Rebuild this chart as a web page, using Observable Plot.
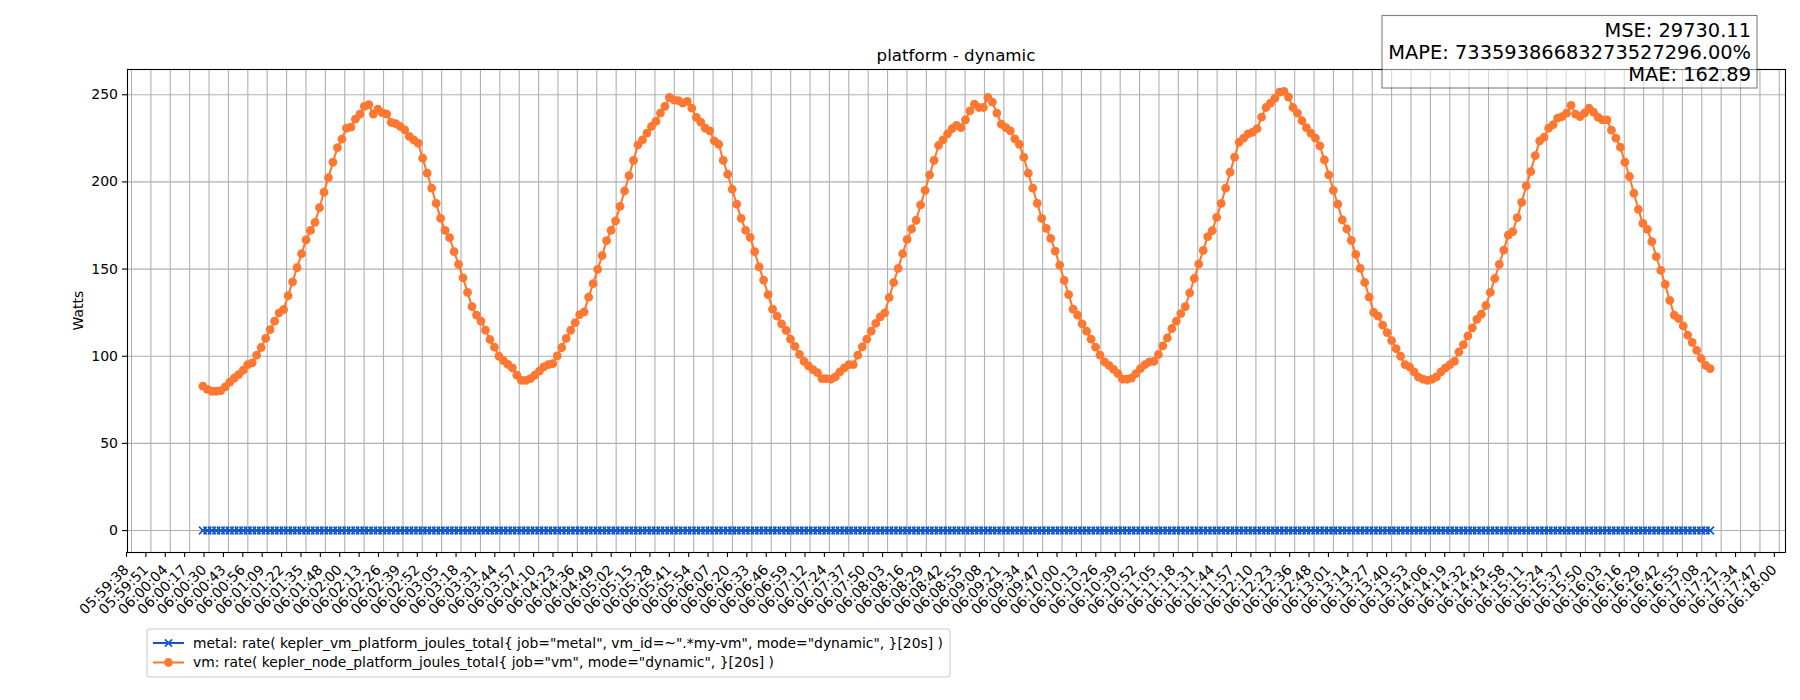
<!DOCTYPE html>
<html>
<head>
<meta charset="utf-8">
<script src="https://cdn.jsdelivr.net/npm/d3@7"></script>
<script src="https://cdn.jsdelivr.net/npm/@observablehq/plot@0.6"></script>
<style>
  html, body { margin: 0; padding: 0; background: #ffffff; }
  #chart svg { display: block; }
</style>
</head>
<body>
<div id="chart"></div>
<script>
// ---------- chart text ----------
const chartTitle = "platform - dynamic";
const yAxisLabel = "Watts";
const statLines = ["MSE: 29730.11", "MAPE: 73359386683273527296.00%", "MAE: 162.89"];
const seriesNames = [
  'metal: rate( kepler_vm_platform_joules_total{ job="metal", vm_id=~".*my-vm", mode="dynamic", }[20s] )',
  'vm: rate( kepler_node_platform_joules_total{ job="vm", mode="dynamic", }[20s] )'
];
const seriesColors = ["#1456c6", "#ff7832"];

// ---------- sampling ----------
const sampleDay = "2024-01-01";
const sampleStart = "06:00:26.1";
const sampleStepSeconds = 3;

// ---------- series values (Watts) ----------
const vmWatts = [
  82.8, 81.0, 79.9, 79.9, 80.3, 82.4, 85.2, 87.5, 89.5, 92.0,
  95.2, 96.2, 100.6, 105.0, 110.2, 115.3, 120.1, 124.9, 126.8, 134.7,
  142.7, 150.8, 158.8, 166.7, 172.2, 176.8, 185.2, 194.1, 202.5, 211.3,
  219.7, 224.5, 230.8, 231.4, 236.0, 238.9, 243.3, 244.3, 238.9, 241.8,
  239.7, 238.9, 234.1, 233.5, 231.8, 229.9, 226.1, 224.1, 222.2, 213.6,
  205.0, 196.4, 187.7, 179.1, 172.2, 168.0, 160.0, 152.7, 145.0, 136.6,
  128.4, 123.6, 120.1, 115.0, 109.6, 105.2, 100.0, 97.5, 95.3, 93.3,
  89.1, 86.2, 86.2, 87.2, 89.1, 91.4, 93.9, 95.2, 95.8, 100.2,
  105.0, 110.2, 114.9, 119.3, 123.9, 125.5, 133.9, 141.6, 149.8, 157.7,
  166.3, 172.2, 177.6, 186.0, 194.8, 203.6, 212.3, 221.3, 224.1, 228.0,
  231.8, 234.7, 239.5, 243.3, 248.5, 247.1, 246.6, 245.2, 246.2, 242.3,
  237.0, 234.3, 230.8, 229.3, 223.6, 221.6, 212.3, 204.4, 195.8, 187.2,
  179.1, 172.2, 168.2, 160.0, 151.3, 143.7, 135.4, 127.0, 123.0, 118.6,
  114.8, 109.8, 105.6, 101.0, 97.1, 94.5, 92.3, 90.6, 87.2, 87.2,
  86.8, 88.1, 91.0, 93.3, 95.2, 95.2, 100.6, 105.4, 109.8, 114.4,
  118.8, 122.6, 124.9, 133.7, 142.3, 150.4, 158.8, 167.0, 173.0, 178.0,
  186.8, 195.2, 204.0, 212.3, 220.9, 224.1, 227.6, 230.5, 232.4, 231.2,
  235.6, 240.8, 244.6, 242.7, 242.7, 248.5, 245.8, 239.5, 233.1, 231.2,
  229.3, 224.7, 221.6, 214.2, 205.0, 196.4, 187.7, 179.1, 173.4, 167.6,
  160.3, 152.3, 143.5, 135.4, 127.0, 123.6, 118.6, 114.4, 109.8, 105.2,
  100.6, 96.7, 94.8, 92.5, 90.0, 86.8, 86.8, 87.5, 90.0, 92.9,
  95.2, 96.7, 97.1, 101.0, 105.9, 110.5, 115.9, 120.1, 124.5, 128.4,
  136.4, 144.6, 152.9, 160.7, 168.6, 172.0, 179.7, 187.7, 196.4, 205.6,
  214.2, 222.8, 225.1, 227.6, 228.5, 230.5, 237.2, 242.7, 245.2, 248.1,
  251.5, 251.9, 248.7, 242.7, 239.5, 235.1, 231.2, 228.0, 225.1, 220.7,
  212.6, 204.0, 195.2, 187.2, 178.2, 173.0, 166.5, 158.4, 150.4, 142.3,
  133.9, 125.1, 123.0, 117.8, 113.6, 109.0, 104.4, 100.0, 95.2, 93.9,
  91.0, 88.0, 86.8, 86.2, 86.8, 88.1, 91.0, 93.3, 95.2, 97.1,
  102.5, 106.7, 111.7, 116.3, 121.1, 124.1, 129.1, 136.6, 144.6, 152.7,
  160.9, 169.5, 171.5, 179.5, 188.3, 197.7, 205.9, 215.1, 223.6, 225.7,
  230.8, 232.8, 236.6, 237.5, 239.5, 243.9, 238.9, 237.5, 239.5, 242.3,
  240.0, 237.2, 235.6, 235.6, 229.7, 225.1, 219.9, 211.3, 203.1, 193.5,
  184.3, 176.2, 172.8, 165.7, 157.1, 149.2, 141.2, 132.0, 123.6, 121.6,
  117.4, 112.1, 107.9, 103.4, 98.7, 94.8, 92.9
];
const metalWatts = [
  0, 0, 0, 0, 0, 0, 0, 0, 0, 0,
  0, 0, 0, 0, 0, 0, 0, 0, 0, 0,
  0, 0, 0, 0, 0, 0, 0, 0, 0, 0,
  0, 0, 0, 0, 0, 0, 0, 0, 0, 0,
  0, 0, 0, 0, 0, 0, 0, 0, 0, 0,
  0, 0, 0, 0, 0, 0, 0, 0, 0, 0,
  0, 0, 0, 0, 0, 0, 0, 0, 0, 0,
  0, 0, 0, 0, 0, 0, 0, 0, 0, 0,
  0, 0, 0, 0, 0, 0, 0, 0, 0, 0,
  0, 0, 0, 0, 0, 0, 0, 0, 0, 0,
  0, 0, 0, 0, 0, 0, 0, 0, 0, 0,
  0, 0, 0, 0, 0, 0, 0, 0, 0, 0,
  0, 0, 0, 0, 0, 0, 0, 0, 0, 0,
  0, 0, 0, 0, 0, 0, 0, 0, 0, 0,
  0, 0, 0, 0, 0, 0, 0, 0, 0, 0,
  0, 0, 0, 0, 0, 0, 0, 0, 0, 0,
  0, 0, 0, 0, 0, 0, 0, 0, 0, 0,
  0, 0, 0, 0, 0, 0, 0, 0, 0, 0,
  0, 0, 0, 0, 0, 0, 0, 0, 0, 0,
  0, 0, 0, 0, 0, 0, 0, 0, 0, 0,
  0, 0, 0, 0, 0, 0, 0, 0, 0, 0,
  0, 0, 0, 0, 0, 0, 0, 0, 0, 0,
  0, 0, 0, 0, 0, 0, 0, 0, 0, 0,
  0, 0, 0, 0, 0, 0, 0, 0, 0, 0,
  0, 0, 0, 0, 0, 0, 0, 0, 0, 0,
  0, 0, 0, 0, 0, 0, 0, 0, 0, 0,
  0, 0, 0, 0, 0, 0, 0, 0, 0, 0,
  0, 0, 0, 0, 0, 0, 0, 0, 0, 0,
  0, 0, 0, 0, 0, 0, 0, 0, 0, 0,
  0, 0, 0, 0, 0, 0, 0, 0, 0, 0,
  0, 0, 0, 0, 0, 0, 0, 0, 0, 0,
  0, 0, 0, 0, 0, 0, 0, 0, 0, 0,
  0, 0, 0, 0, 0, 0, 0, 0, 0, 0,
  0, 0, 0, 0, 0, 0, 0
];

// ---------- tick labels ----------
const xTickLabels = [
  "05:59:38", "05:59:51", "06:00:04", "06:00:17", "06:00:30", "06:00:43", "06:00:56",
  "06:01:09", "06:01:22", "06:01:35", "06:01:48", "06:02:00", "06:02:13", "06:02:26",
  "06:02:39", "06:02:52", "06:03:05", "06:03:18", "06:03:31", "06:03:44", "06:03:57",
  "06:04:10", "06:04:23", "06:04:36", "06:04:49", "06:05:02", "06:05:15", "06:05:28",
  "06:05:41", "06:05:54", "06:06:07", "06:06:20", "06:06:33", "06:06:46", "06:06:59",
  "06:07:12", "06:07:24", "06:07:37", "06:07:50", "06:08:03", "06:08:16", "06:08:29",
  "06:08:42", "06:08:55", "06:09:08", "06:09:21", "06:09:34", "06:09:47", "06:10:00",
  "06:10:13", "06:10:26", "06:10:39", "06:10:52", "06:11:05", "06:11:18", "06:11:31",
  "06:11:44", "06:11:57", "06:12:10", "06:12:23", "06:12:36", "06:12:48", "06:13:01",
  "06:13:14", "06:13:27", "06:13:40", "06:13:53", "06:14:06", "06:14:19", "06:14:32",
  "06:14:45", "06:14:58", "06:15:11", "06:15:24", "06:15:37", "06:15:50", "06:16:03",
  "06:16:16", "06:16:29", "06:16:42", "06:16:55", "06:17:08", "06:17:21", "06:17:34",
  "06:17:47", "06:18:00"
];
const yTicks = [0, 50, 100, 150, 200, 250];

// ---------- build table ----------
const startMs = Date.parse(`${sampleDay}T${sampleStart}Z`);
const rows = vmWatts.map((v, i) => ({
  time: new Date(startMs + i * sampleStepSeconds * 1000),
  vm: v,
  metal: metalWatts[i]
}));

// tick positions: evenly spaced between first and last labelled instants (labels are truncated seconds)
const tickFrac = 370;
const tFirst = Date.parse(`${sampleDay}T${xTickLabels[0]}Z`) + tickFrac;
const tLast = Date.parse(`${sampleDay}T${xTickLabels[xTickLabels.length - 1]}Z`) + tickFrac;
const tickDates = xTickLabels.map((_, i) => new Date(tFirst + i * (tLast - tFirst) / (xTickLabels.length - 1)));
const labelOf = new Map(tickDates.map((d, i) => [+d, xTickLabels[i]]));

// autoscale like matplotlib (5% margins)
const t0 = +rows[0].time, t1 = +rows[rows.length - 1].time;
const xPad = 0.05 * (t1 - t0);
const yMin = Math.min(d3.min(vmWatts), d3.min(metalWatts));
const yMax = Math.max(d3.max(vmWatts), d3.max(metalWatts));
const yPad = 0.05 * (yMax - yMin);

const W = 1800, H = 700;
const M = {left: 127, right: 15, top: 69, bottom: 148};
const font = '"DejaVu Sans", sans-serif';

const svgNode = Plot.plot({
  width: W,
  height: H,
  marginLeft: M.left,
  marginRight: M.right,
  marginTop: M.top,
  marginBottom: M.bottom,
  style: {fontFamily: font, fontSize: "14px", color: "#000000", background: "#ffffff", overflow: "visible"},
  x: {type: "utc", domain: [new Date(t0 - xPad), new Date(t1 + xPad)]},
  y: {domain: [yMin - yPad, yMax + yPad]},
  marks: [
    Plot.gridX(tickDates, {stroke: "#b0b0b0", strokeOpacity: 1, strokeWidth: 1.1}),
    Plot.gridY(yTicks, {stroke: "#b0b0b0", strokeOpacity: 1, strokeWidth: 1.1}),
    Plot.axisX(tickDates, {
      tickFormat: d => labelOf.get(+d),
      tickRotate: -45, tickSize: 5, tickPadding: 10, dx: -5,
      label: null, fontSize: 14, strokeWidth: 1.1
    }),
    Plot.axisY(yTicks, {tickSize: 5, tickPadding: 4.5, label: null, fontSize: 14, strokeWidth: 1.1}),
    Plot.line(rows, {x: "time", y: "metal", stroke: seriesColors[0], strokeWidth: 2.1}),
    Plot.dot(rows, {x: "time", y: "metal", symbol: "times", stroke: seriesColors[0], r: 3.6, strokeWidth: 1.7}),
    Plot.line(rows, {x: "time", y: "vm", stroke: seriesColors[1], strokeWidth: 2.1}),
    Plot.dot(rows, {x: "time", y: "vm", fill: seriesColors[1], stroke: "none", r: 4.4}),
    Plot.frame({stroke: "#000000", strokeWidth: 1.1})
  ]
});
document.getElementById("chart").appendChild(svgNode);

// ---------- decorations (title, y label, stats box, legend) ----------
const svg = d3.select(svgNode);
const plotLeft = M.left, plotRight = W - M.right, plotTop = M.top, plotBottom = H - M.bottom;

svg.append("text")
  .attr("x", (plotLeft + plotRight) / 2).attr("y", plotTop - 8.5)
  .attr("text-anchor", "middle")
  .style("font-family", font).style("font-size", "16.7px").attr("fill", "#000")
  .text(chartTitle);

svg.append("text")
  .attr("transform", `translate(78,${(plotTop + plotBottom) / 2}) rotate(-90)`)
  .attr("text-anchor", "middle").attr("dy", "0.35em")
  .style("font-family", font).style("font-size", "14px").attr("fill", "#000")
  .text(yAxisLabel);

// stats box
const box = {x: 1382, y: 15.5, w: 375, h: 72.5};
svg.append("rect")
  .attr("x", box.x).attr("y", box.y).attr("width", box.w).attr("height", box.h)
  .attr("fill", "#ffffff").attr("fill-opacity", 0.5)
  .attr("stroke", "#000000").attr("stroke-opacity", 0.5).attr("stroke-width", 1.1);
statLines.forEach((s, i) => {
  svg.append("text")
    .attr("x", box.x + box.w - 6).attr("y", box.y + 21 + i * 22)
    .attr("text-anchor", "end")
    .style("font-family", font).style("font-size", "19.4px").attr("fill", "#000")
    .text(s);
});

// legend
const leg = {x: 147, y: 629, w: 803, h: 48};
svg.append("rect")
  .attr("x", leg.x).attr("y", leg.y).attr("width", leg.w).attr("height", leg.h)
  .attr("rx", 3).attr("ry", 3)
  .attr("fill", "#ffffff").attr("fill-opacity", 0.8)
  .attr("stroke", "#cccccc").attr("stroke-width", 1.1);
const legendRows = [643, 662.5];
const legendTextWidths = [750, 581];
seriesNames.forEach((name, i) => {
  const cy = legendRows[i];
  svg.append("line")
    .attr("x1", 153).attr("x2", 184).attr("y1", cy).attr("y2", cy)
    .attr("stroke", seriesColors[i]).attr("stroke-width", 2.1);
  if (i === 0) {
    const r = 3.6;
    svg.append("path")
      .attr("d", `M${168.5 - r},${cy - r}L${168.5 + r},${cy + r}M${168.5 - r},${cy + r}L${168.5 + r},${cy - r}`)
      .attr("stroke", seriesColors[i]).attr("stroke-width", 1.7).attr("fill", "none");
  } else {
    svg.append("circle").attr("cx", 168.5).attr("cy", cy).attr("r", 4.4).attr("fill", seriesColors[i]);
  }
  svg.append("text")
    .attr("x", 193).attr("y", cy).attr("dy", "0.35em")
    .attr("text-anchor", "start")
    .attr("textLength", legendTextWidths[i]).attr("lengthAdjust", "spacingAndGlyphs")
    .style("font-family", font).style("font-size", "13.9px").attr("fill", "#000")
    .text(name);
});
</script>
</body>
</html>
